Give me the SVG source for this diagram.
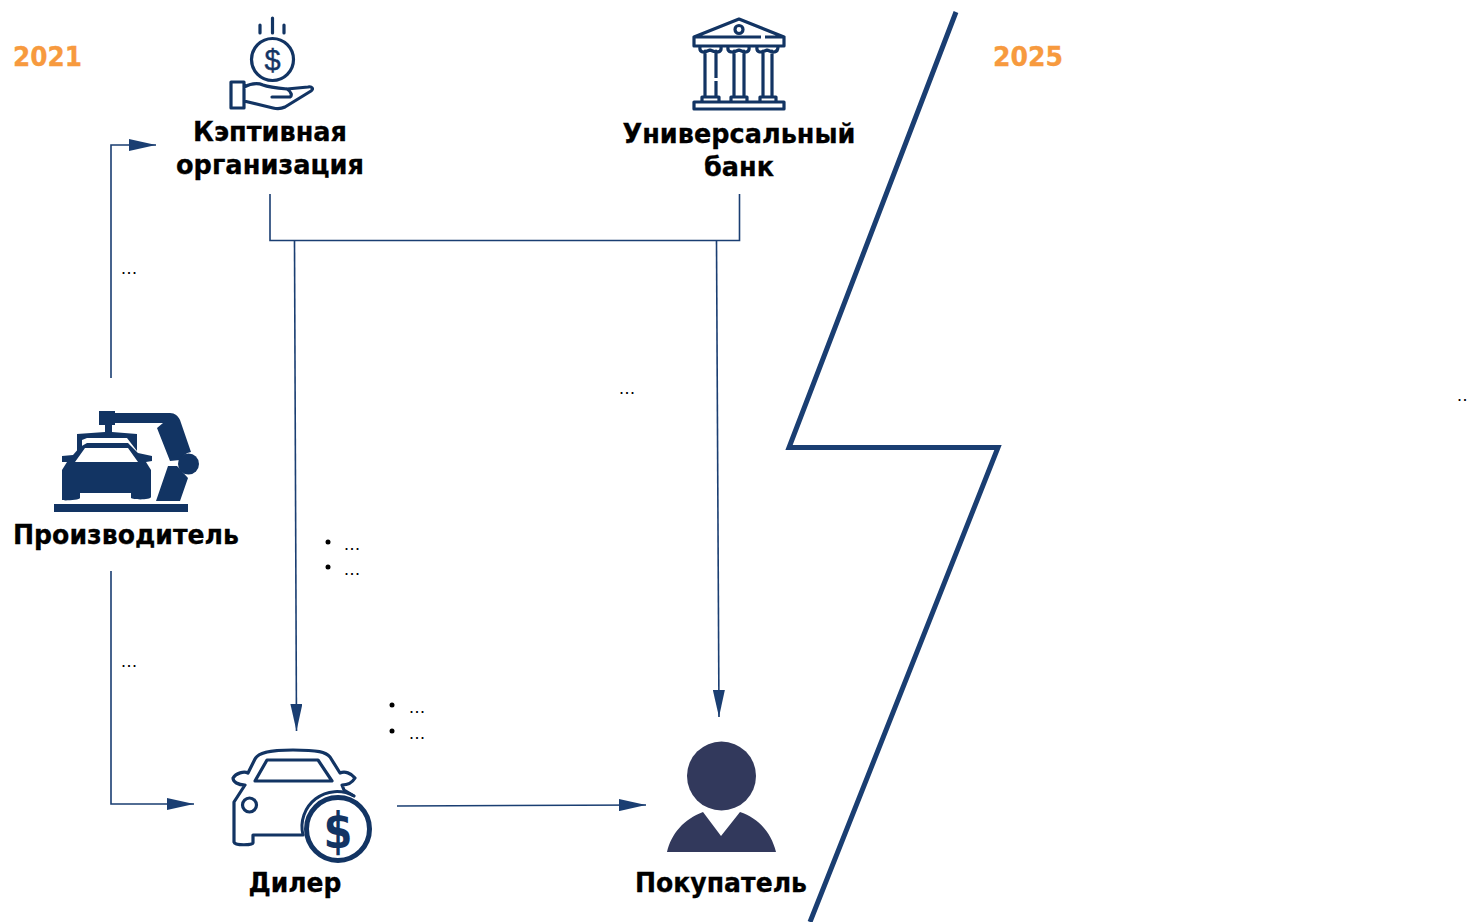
<svg xmlns="http://www.w3.org/2000/svg" width="1469" height="922" viewBox="0 0 1469 922">
<style>
.t{font-family:"DejaVu Sans",Verdana,sans-serif;font-weight:700;font-size:27px;fill:#000;stroke:#000;stroke-width:.3;text-anchor:middle}
.y{font-family:"DejaVu Sans",Verdana,sans-serif;font-weight:700;font-size:27px;fill:#f79a3e;stroke:#f79a3e;stroke-width:.3}
.d{font-family:"Liberation Sans",sans-serif;font-size:18px;letter-spacing:.5px;fill:#000}
.c{fill:none;stroke:#1a3e72;stroke-width:1.6}
.i{fill:none;stroke:#123463;stroke-width:3.2;stroke-linejoin:round;stroke-linecap:round}
.f{fill:#123463}
</style>
<defs>
<marker id="a" markerUnits="userSpaceOnUse" markerWidth="28" markerHeight="12" refX="27" refY="6" orient="auto"><path d="M0 0L27 6L0 12z" fill="#1a3e72"/></marker>
</defs>
<rect width="1469" height="922" fill="#fff"/>
<g id="connectors">
<path class="c" d="M111 378V145H156" marker-end="url(#a)"/>
<path class="c" d="M111 571V804H194" marker-end="url(#a)"/>
<path class="c" d="M270 194V240.500H739.500V194"/>
<path class="c" d="M294.500 241L296.500 731" marker-end="url(#a)"/>
<path class="c" d="M716.500 241L719 717" marker-end="url(#a)"/>
<path class="c" d="M397 806L646 805" marker-end="url(#a)"/>
</g>
<g id="divider"><path d="M956 12L789 447.500H998L810 922" fill="none" stroke="#1a3e72" stroke-width="5"/></g>
<g id="years"><text class="y" x="13" y="65.500" textLength="69" lengthAdjust="spacingAndGlyphs">2021</text><text class="y" x="993" y="65.500" textLength="70" lengthAdjust="spacingAndGlyphs">2025</text></g>
<g id="captive">
<path class="i" d="M272.500 18V33M260 25V33M284 25V33" stroke-width="2.500"/>
<circle class="i" cx="272.500" cy="59.500" r="21"/>
<text x="272.500" y="70" text-anchor="middle" style="font-family:'Liberation Sans',sans-serif;font-size:29px;fill:#123463;stroke:#123463;stroke-width:.4">$</text>
<path class="i" d="M231 82H244V108H231zM244 87C250 84 256 82 263 85C268 87 276 88 287 89L308 87C312 86 314 89 311 91L285 107C281 109 277 109 273 108L244 101M272 97H290C292 96 292 92 287 89"/>
<text class="t" x="270" y="141" textLength="154" lengthAdjust="spacingAndGlyphs">Кэптивная</text><text class="t" x="270" y="174" textLength="188" lengthAdjust="spacingAndGlyphs">организация</text>
</g>
<g id="bank">
<path class="i" d="M694 37L739 19L784 37zM694 37H784V46H694zM694 102H784V109H694z"/>
<circle class="i" cx="739" cy="29.500" r="4" stroke-width="2.800"/>
<path class="i" d="M705 51V96M716 51V96M734 51V96M744 51V96M763 51V96M772 51V96M700 47C699 53 704 53 710 50C716 53 722 53 721 47M728 47C727 53 733 53 739 50C745 53 750 53 749 47M757 47C756 53 761 53 767 50C773 53 778 53 778 47M702 101V97H719V101M731 101V97H747V101M760 101V97H776V101"/>
<rect x="712" y="78" width="8" height="3" fill="#fff"/>
<rect x="761" y="35" width="4" height="4" fill="#fff"/>
<text class="t" x="739" y="143" textLength="233" lengthAdjust="spacingAndGlyphs">Универсальный</text><text class="t" x="739" y="176" textLength="70" lengthAdjust="spacingAndGlyphs">банк</text>
</g>
<g id="maker">
<path class="f" d="M99 411H115V413H170C175 413 178 416 180 420L191 452C186 453 182 456 180 460L170 461L157 428L163 423H115V425H112V432L137 434V451L127 438H87L82 440V447L77 452V434L105 432V425H99zM168 466H177L188 478L180 501H156zM54 504H188V512H54z"/>
<circle class="f" cx="188.500" cy="464" r="10.500"/>
<path class="f" fill-rule="evenodd" d="M62 500V470L67 462H62V456L73 455L80 447L87 443H128L138 453L152 456V461L146 462L151 470V497C151 500 133 500 131 498V493H80V498C80 500 63 501 62 500zM75 462H138L128 448H85z"/>
<text class="t" x="126" y="544" textLength="226" lengthAdjust="spacingAndGlyphs">Производитель</text>
</g>
<g id="dealer">
<path class="i" stroke-width="5.200" d="M303 835H253V843C253 845 235 846 234 842V802L245 785C238 785 233 782 233 778C236 773 244 771 248 773L255 759C258 753 268 750 293 750C318 750 326 752 330 757L340 773C345 771 351 773 355 778C352 783 347 785 342 785L344 790L354 796"/>
<path class="i" stroke-width="5.200" d="M255 781L267 760H318L332 781z"/>
<circle class="i" cx="249.500" cy="805" r="7" stroke-width="5"/>
<path d="M303 835A35 35 0 0 1 354 796" fill="none" stroke="#123463" stroke-width="3"/>
<circle cx="338" cy="829" r="31.500" fill="#fff" stroke="#123463" stroke-width="5"/>
<text x="338" y="848" text-anchor="middle" textLength="29" lengthAdjust="spacingAndGlyphs" style="font-family:'DejaVu Sans',sans-serif;font-weight:700;font-size:50px;fill:#123463">$</text>
<text class="t" x="295" y="892" textLength="93" lengthAdjust="spacingAndGlyphs">Дилер</text>
</g>
<g id="buyer">
<circle cx="721.500" cy="776" r="34.500" fill="#32395c"/>
<path d="M667 852C671 834 684 819 703 812L721 836L740 812C758 818 771 832 776 852z" fill="#32395c"/>
<text class="t" x="721" y="892" textLength="172" lengthAdjust="spacingAndGlyphs">Покупатель</text>
</g>
<g id="notes">
<text class="d" x="121" y="274">...</text><text class="d" x="121" y="667">...</text><text class="d" x="619" y="394">...</text><text class="d" x="1457" y="401">..</text>
<circle cx="328" cy="542" r="2.500"/><text class="d" x="344" y="550">...</text>
<circle cx="328" cy="567" r="2.500"/><text class="d" x="344" y="575">...</text>
<circle cx="392" cy="705" r="2.500"/><text class="d" x="409" y="713">...</text>
<circle cx="392" cy="731" r="2.500"/><text class="d" x="409" y="739">...</text>
</g>
</svg>
